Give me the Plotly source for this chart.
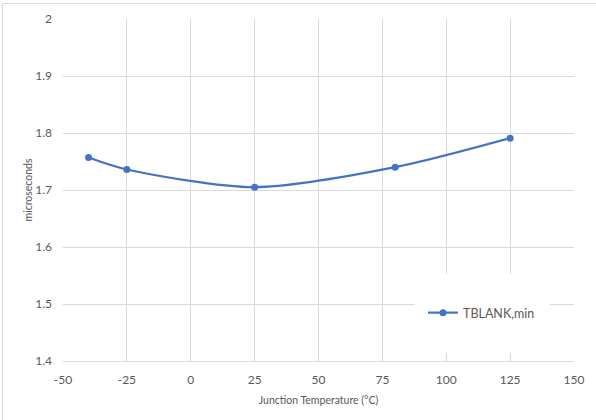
import plotly.graph_objects as go

temps = [-40, -25, 25, 80, 125]
tblank_min = [1.757, 1.736, 1.705, 1.740, 1.791]
series_name = "TBLANK,min"
x_ticks = [-50, -25, 0, 25, 50, 75, 100, 125, 150]
y_ticks = [1.4, 1.5, 1.6, 1.7, 1.8, 1.9, 2.0]
y_tick_labels = ["1.4", "1.5", "1.6", "1.7", "1.8", "1.9", "2"]

FONT = "Lato"
TXT = "#595959"
GRID = "#d9d9d9"
BLUE = "#4472C4"

fig = go.Figure()
fig.add_trace(go.Scatter(
    x=temps, y=tblank_min, name=series_name, mode="lines+markers",
    line=dict(color=BLUE, width=2.2, shape="spline", smoothing=0.8),
    marker=dict(color=BLUE, size=7),
))

L, R, T, B = 63, 22, 19, 59
W, H = 596, 420
pw, ph = W - L - R, H - T - B

def px_x(p):
    return (p - L) / pw

def px_y(p):
    return (H - B - p) / ph

shapes = [
    # legend background box covering gridlines
    dict(type="rect", xref="paper", yref="paper", layer="above",
         x0=px_x(415), x1=px_x(550), y0=px_y(353), y1=px_y(274),
         fillcolor="white", line=dict(width=0)),
    # chart outer border (top/left visible)
    dict(type="rect", xref="paper", yref="paper", layer="below",
         x0=px_x(2.5), x1=px_x(605), y0=px_y(430), y1=px_y(3.5),
         fillcolor="rgba(0,0,0,0)", line=dict(color="#d9d9d9", width=1)),
]

fig.update_layout(
    width=W, height=H,
    margin=dict(l=L, r=R, t=T, b=B, autoexpand=False),
    paper_bgcolor="white", plot_bgcolor="white",
    font=dict(family=FONT, color=TXT, size=12),
    showlegend=True,
    legend=dict(x=px_x(423), y=px_y(313), xanchor="left", yanchor="middle",
                bgcolor="rgba(0,0,0,0)", borderwidth=0,
                font=dict(family=FONT, size=12.5, color=TXT),
                itemwidth=30, tracegroupgap=0),
    shapes=shapes,
    xaxis=dict(
        range=[-50, 150], tickvals=x_ticks, ticktext=[str(v) for v in x_ticks],
        showgrid=True, gridcolor=GRID, gridwidth=1,
        showline=True, linecolor=GRID, linewidth=1,
        zeroline=False, ticks="", ticklabelstandoff=8,
        tickfont=dict(family=FONT, size=12, color=TXT),
        title=dict(text="Junction Temperature (°C)", standoff=10,
                   font=dict(family=FONT, size=10.5, color=TXT)),
        fixedrange=True, automargin=False,
    ),
    yaxis=dict(
        range=[1.4, 2.0], tickvals=y_ticks, ticktext=y_tick_labels,
        showgrid=True, gridcolor=GRID, gridwidth=1,
        showline=False, zeroline=False, ticks="", ticklabelstandoff=10,
        tickfont=dict(family=FONT, size=12, color=TXT),
        title=dict(text="microseconds", standoff=0,
                   font=dict(family=FONT, size=10.5, color=TXT)),
        fixedrange=True, automargin=False,
    ),
)

fig.write_html("out.html", config={"displayModeBar": False},
               post_script="document.body.style.margin='0';document.body.style.overflow='hidden';")
